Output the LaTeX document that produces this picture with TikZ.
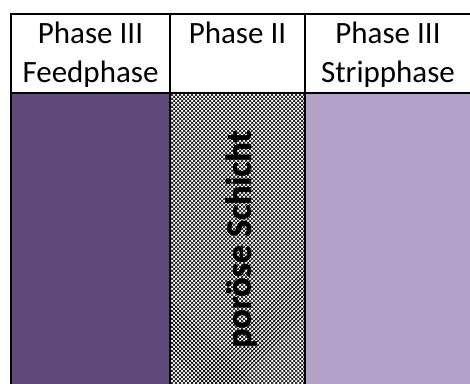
\documentclass[tikz,border=0pt]{standalone}
\usepackage{fontspec}
\setmainfont{Carlito}
\newfontfamily\layerfont{Carlito}[BoldFeatures={FakeBold=1.2}]
\usetikzlibrary{patterns.meta}
\definecolor{darkpurple}{HTML}{604A7B}
\definecolor{lightpurple}{HTML}{B2A1C7}
\tikzset{
  headtext/.style={font=\fontsize{31}{39}\selectfont, align=center, inner sep=0pt},
  gridline/.style={line width=2pt, black},
  layertext/.style={font=\layerfont\bfseries\fontsize{36}{40}\selectfont, rotate=90, inner sep=0pt}
}
\begin{document}
\begin{tikzpicture}[x=1pt,y=1pt]
\useasboundingbox (0,0) rectangle (470,-383);
\clip (0,0) rectangle (470,-383);
% body fills
\fill[darkpurple] (11,-93) rectangle (170,-390);
\fill[white] (170,-93) rectangle (305,-390);
\fill[pattern={Lines[angle=45,distance=2.83pt,line width=0.55pt]}, pattern color=black] (170,-93) rectangle (305,-390);
\fill[pattern={Lines[angle=-45,distance=2.83pt,line width=0.55pt]}, pattern color=black] (170,-93) rectangle (305,-390);
\fill[lightpurple] (305,-93) rectangle (471,-390);
% grid
\draw[gridline] (11,-390) -- (11,-14) -- (471,-14) -- (471,-390);
\draw[gridline] (11,-93) -- (471,-93);
\draw[gridline] (170,-14) -- (170,-390);
\draw[gridline] (305,-14) -- (305,-390);
% header texts
\node[headtext, anchor=north] (h1) at (90.5,-22) {Phase III\\Feedphase};
\node[headtext, anchor=north] (h2) at (237.5,-22) {Phase II};
\node[headtext, anchor=north] (h3) at (388,-22) {Phase III\\Stripphase};
\node[layertext] (l2) at (241,-239) {poröse Schicht};
\end{tikzpicture}
\end{document}
